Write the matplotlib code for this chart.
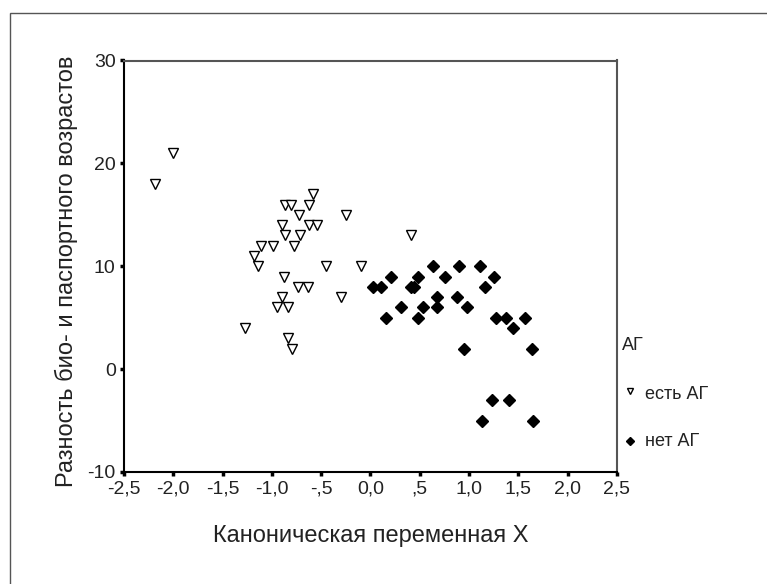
import matplotlib
matplotlib.use("Agg")
import matplotlib.pyplot as plt
from matplotlib.patches import Rectangle

plt.rcParams["font.family"] = ["Liberation Sans", "DejaVu Sans"]

# есть АГ (open down-triangles)
yes_x = [-2.19, -2.00, -0.87, -0.81, -0.58, -0.62, -0.73, -0.25, -0.90, -0.62,
         -0.54, -0.87, -0.72, -1.11, -0.99, -0.78, -1.18, -1.14, -0.45, -0.10,
         -0.88, -0.74, -0.63, -0.90, -0.30, -0.95, -0.84, -1.27, -0.84, -0.80,
         0.41]
yes_y = [18, 21, 16, 16, 17, 16, 15, 15, 14, 14,
         14, 13, 13, 12, 12, 12, 11, 10, 10, 10,
         9, 8, 8, 7, 7, 6, 6, 4, 3, 2,
         13]

# нет АГ (filled diamonds)
no_x = [0.63, 0.90, 1.11, 0.21, 0.48, 0.76, 1.25, 0.03, 0.11, 0.41,
        0.44, 1.16, 0.67, 0.88, 0.31, 0.53, 0.67, 0.98, 0.16, 0.48,
        1.27, 1.37, 1.57, 1.45, 0.95, 1.64, 1.23, 1.40, 1.13, 1.65]
no_y = [10, 10, 10, 9, 9, 9, 9, 8, 8, 8,
        8, 8, 7, 7, 6, 6, 6, 6, 5, 5,
        5, 5, 5, 4, 2, 2, -3, -3, -5, -5]

x_ticks = [-2.5, -2.0, -1.5, -1.0, -0.5, 0.0, 0.5, 1.0, 1.5, 2.0, 2.5]
x_labels = ["-2,5", "-2,0", "-1,5", "-1,0", "-,5", "0,0", ",5", "1,0", "1,5", "2,0", "2,5"]
y_ticks = [-10, 0, 10, 20, 30]
y_labels = ["-10", "0", "10", "20", "30"]

W, H = 767, 584
fig = plt.figure(figsize=(W / 100, H / 100), dpi=100)
ax = fig.add_axes([124 / W, 1 - 472 / H, (617 - 124) / W, (472 - 60.5) / H])

# outer frame of the chart area
fig.patches.append(Rectangle((10 / W, -0.1), 2, 1 - 13 / H + 0.1, transform=fig.transFigure,
                             fill=False, edgecolor="#555555", linewidth=1.0))

ax.plot(yes_x, yes_y, "v", markersize=7, markerfacecolor="white",
        markeredgecolor="black", markeredgewidth=1.0, linestyle="none")
ax.plot(no_x, no_y, "D", markersize=6, color="black", linestyle="none")

ax.set_xlim(-2.5, 2.5)
ax.set_ylim(-10, 30)
ax.set_xticks(x_ticks)
ax.set_xticklabels(x_labels)
ax.set_yticks(y_ticks)
ax.set_yticklabels(y_labels)

for side in ("left", "bottom"):
    ax.spines[side].set_color("black")
    ax.spines[side].set_linewidth(1.5)
for side in ("top", "right"):
    ax.spines[side].set_color("#555555")
    ax.spines[side].set_linewidth(1.5)

ax.tick_params(direction="out", length=3, width=2.5, color="black",
               labelsize=14, labelcolor="#222222", pad=3)

ax.set_xlabel("Каноническая переменная X", fontsize=17, color="#222222", va="center")
ax.xaxis.set_label_coords(0.5, (472 - 536) / 411.5)
ax.set_ylabel("Разность био- и паспортного возрастов", fontsize=17, color="#222222",
              va="center")
ax.yaxis.set_label_coords((66 - 124) / 493, (472 - 271.5) / 411.5)

# legend drawn as text beside the plot
fig.text(622 / W, 1 - 345.5 / H, "АГ", fontsize=13, color="#222222", va="center")
fig.lines.append(plt.Line2D([630 / W], [1 - 391 / H], transform=fig.transFigure,
                            marker="v", markersize=5, markerfacecolor="white",
                            markeredgecolor="black", linestyle="none"))
fig.text(645 / W, 1 - 394.5 / H, "есть АГ", fontsize=13, color="#222222", va="center")
fig.lines.append(plt.Line2D([630 / W], [1 - 441 / H], transform=fig.transFigure,
                            marker="D", markersize=4.5, color="black", linestyle="none"))
fig.text(645 / W, 1 - 442 / H, "нет АГ", fontsize=13, color="#222222", va="center")

fig.savefig("out.png", dpi=100, facecolor="white")
